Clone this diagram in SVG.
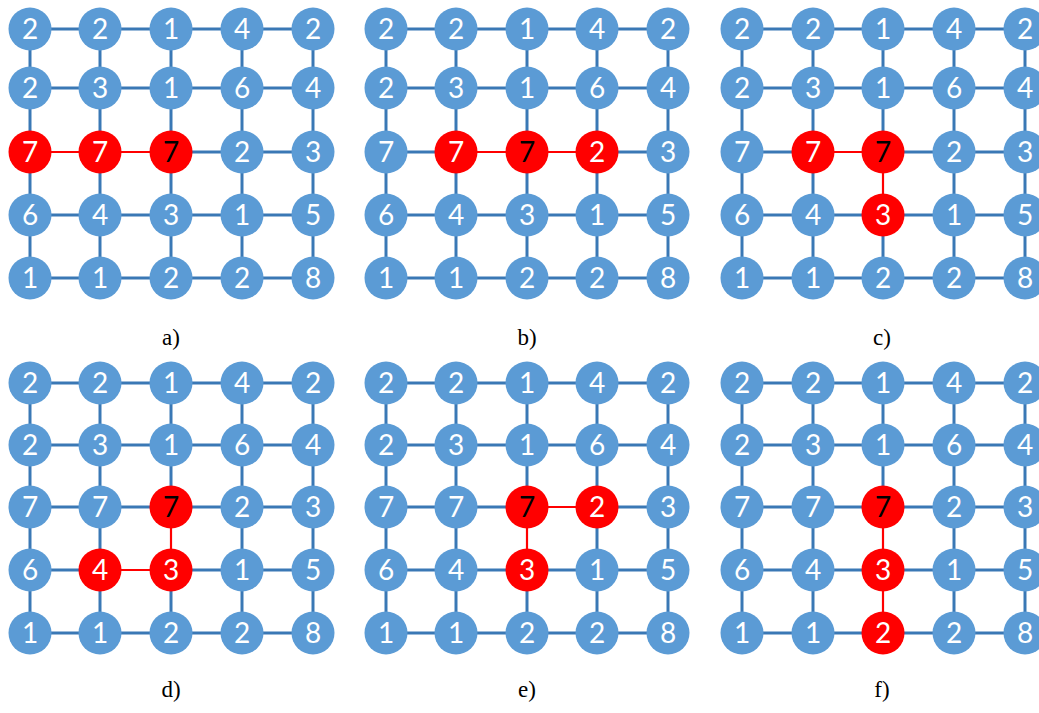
<svg xmlns="http://www.w3.org/2000/svg" width="1039" height="713" viewBox="0 0 1039 713">
<style>
.e{stroke:#3a78b5;stroke-width:3}
.r{stroke:#ff0000;stroke-width:2.2}
.n{fill:#5b9bd5}
.nr{fill:#ff0000}
.t{font-family:Lato,"Open Sans",sans-serif;font-size:28px;fill:#ffffff;text-anchor:middle}
.k{fill:#000000}
.lb{font-family:"Liberation Serif","DejaVu Serif",serif;font-size:23px;fill:#000;text-anchor:middle}
</style>
<rect width="1039" height="713" fill="#ffffff"/>
<g id="connectors">
<!-- panel a -->
<line class="e" x1="30" y1="29" x2="100" y2="29"/><line class="e" x1="100" y1="29" x2="171" y2="29"/><line class="e" x1="171" y1="29" x2="242" y2="29"/><line class="e" x1="242" y1="29" x2="313" y2="29"/>
<line class="e" x1="30" y1="88" x2="100" y2="88"/><line class="e" x1="100" y1="88" x2="171" y2="88"/><line class="e" x1="171" y1="88" x2="242" y2="88"/><line class="e" x1="242" y1="88" x2="313" y2="88"/>
<line class="r" x1="30" y1="152" x2="100" y2="152"/><line class="r" x1="100" y1="152" x2="171" y2="152"/><line class="e" x1="171" y1="152" x2="242" y2="152"/><line class="e" x1="242" y1="152" x2="313" y2="152"/>
<line class="e" x1="30" y1="215" x2="100" y2="215"/><line class="e" x1="100" y1="215" x2="171" y2="215"/><line class="e" x1="171" y1="215" x2="242" y2="215"/><line class="e" x1="242" y1="215" x2="313" y2="215"/>
<line class="e" x1="30" y1="278" x2="100" y2="278"/><line class="e" x1="100" y1="278" x2="171" y2="278"/><line class="e" x1="171" y1="278" x2="242" y2="278"/><line class="e" x1="242" y1="278" x2="313" y2="278"/>
<line class="e" x1="30" y1="29" x2="30" y2="88"/><line class="e" x1="30" y1="88" x2="30" y2="152"/><line class="e" x1="30" y1="152" x2="30" y2="215"/><line class="e" x1="30" y1="215" x2="30" y2="278"/>
<line class="e" x1="100" y1="29" x2="100" y2="88"/><line class="e" x1="100" y1="88" x2="100" y2="152"/><line class="e" x1="100" y1="152" x2="100" y2="215"/><line class="e" x1="100" y1="215" x2="100" y2="278"/>
<line class="e" x1="171" y1="29" x2="171" y2="88"/><line class="e" x1="171" y1="88" x2="171" y2="152"/><line class="e" x1="171" y1="152" x2="171" y2="215"/><line class="e" x1="171" y1="215" x2="171" y2="278"/>
<line class="e" x1="242" y1="29" x2="242" y2="88"/><line class="e" x1="242" y1="88" x2="242" y2="152"/><line class="e" x1="242" y1="152" x2="242" y2="215"/><line class="e" x1="242" y1="215" x2="242" y2="278"/>
<line class="e" x1="313" y1="29" x2="313" y2="88"/><line class="e" x1="313" y1="88" x2="313" y2="152"/><line class="e" x1="313" y1="152" x2="313" y2="215"/><line class="e" x1="313" y1="215" x2="313" y2="278"/>
<!-- panel b -->
<line class="e" x1="386" y1="29" x2="456" y2="29"/><line class="e" x1="456" y1="29" x2="527" y2="29"/><line class="e" x1="527" y1="29" x2="597" y2="29"/><line class="e" x1="597" y1="29" x2="668" y2="29"/>
<line class="e" x1="386" y1="88" x2="456" y2="88"/><line class="e" x1="456" y1="88" x2="527" y2="88"/><line class="e" x1="527" y1="88" x2="597" y2="88"/><line class="e" x1="597" y1="88" x2="668" y2="88"/>
<line class="e" x1="386" y1="152" x2="456" y2="152"/><line class="r" x1="456" y1="152" x2="527" y2="152"/><line class="r" x1="527" y1="152" x2="597" y2="152"/><line class="e" x1="597" y1="152" x2="668" y2="152"/>
<line class="e" x1="386" y1="215" x2="456" y2="215"/><line class="e" x1="456" y1="215" x2="527" y2="215"/><line class="e" x1="527" y1="215" x2="597" y2="215"/><line class="e" x1="597" y1="215" x2="668" y2="215"/>
<line class="e" x1="386" y1="278" x2="456" y2="278"/><line class="e" x1="456" y1="278" x2="527" y2="278"/><line class="e" x1="527" y1="278" x2="597" y2="278"/><line class="e" x1="597" y1="278" x2="668" y2="278"/>
<line class="e" x1="386" y1="29" x2="386" y2="88"/><line class="e" x1="386" y1="88" x2="386" y2="152"/><line class="e" x1="386" y1="152" x2="386" y2="215"/><line class="e" x1="386" y1="215" x2="386" y2="278"/>
<line class="e" x1="456" y1="29" x2="456" y2="88"/><line class="e" x1="456" y1="88" x2="456" y2="152"/><line class="e" x1="456" y1="152" x2="456" y2="215"/><line class="e" x1="456" y1="215" x2="456" y2="278"/>
<line class="e" x1="527" y1="29" x2="527" y2="88"/><line class="e" x1="527" y1="88" x2="527" y2="152"/><line class="e" x1="527" y1="152" x2="527" y2="215"/><line class="e" x1="527" y1="215" x2="527" y2="278"/>
<line class="e" x1="597" y1="29" x2="597" y2="88"/><line class="e" x1="597" y1="88" x2="597" y2="152"/><line class="e" x1="597" y1="152" x2="597" y2="215"/><line class="e" x1="597" y1="215" x2="597" y2="278"/>
<line class="e" x1="668" y1="29" x2="668" y2="88"/><line class="e" x1="668" y1="88" x2="668" y2="152"/><line class="e" x1="668" y1="152" x2="668" y2="215"/><line class="e" x1="668" y1="215" x2="668" y2="278"/>
<!-- panel c -->
<line class="e" x1="742" y1="29" x2="813" y2="29"/><line class="e" x1="813" y1="29" x2="883" y2="29"/><line class="e" x1="883" y1="29" x2="954" y2="29"/><line class="e" x1="954" y1="29" x2="1025" y2="29"/>
<line class="e" x1="742" y1="88" x2="813" y2="88"/><line class="e" x1="813" y1="88" x2="883" y2="88"/><line class="e" x1="883" y1="88" x2="954" y2="88"/><line class="e" x1="954" y1="88" x2="1025" y2="88"/>
<line class="e" x1="742" y1="152" x2="813" y2="152"/><line class="r" x1="813" y1="152" x2="883" y2="152"/><line class="e" x1="883" y1="152" x2="954" y2="152"/><line class="e" x1="954" y1="152" x2="1025" y2="152"/>
<line class="e" x1="742" y1="215" x2="813" y2="215"/><line class="e" x1="813" y1="215" x2="883" y2="215"/><line class="e" x1="883" y1="215" x2="954" y2="215"/><line class="e" x1="954" y1="215" x2="1025" y2="215"/>
<line class="e" x1="742" y1="278" x2="813" y2="278"/><line class="e" x1="813" y1="278" x2="883" y2="278"/><line class="e" x1="883" y1="278" x2="954" y2="278"/><line class="e" x1="954" y1="278" x2="1025" y2="278"/>
<line class="e" x1="742" y1="29" x2="742" y2="88"/><line class="e" x1="742" y1="88" x2="742" y2="152"/><line class="e" x1="742" y1="152" x2="742" y2="215"/><line class="e" x1="742" y1="215" x2="742" y2="278"/>
<line class="e" x1="813" y1="29" x2="813" y2="88"/><line class="e" x1="813" y1="88" x2="813" y2="152"/><line class="e" x1="813" y1="152" x2="813" y2="215"/><line class="e" x1="813" y1="215" x2="813" y2="278"/>
<line class="e" x1="883" y1="29" x2="883" y2="88"/><line class="e" x1="883" y1="88" x2="883" y2="152"/><line class="r" x1="883" y1="152" x2="883" y2="215"/><line class="e" x1="883" y1="215" x2="883" y2="278"/>
<line class="e" x1="954" y1="29" x2="954" y2="88"/><line class="e" x1="954" y1="88" x2="954" y2="152"/><line class="e" x1="954" y1="152" x2="954" y2="215"/><line class="e" x1="954" y1="215" x2="954" y2="278"/>
<line class="e" x1="1025" y1="29" x2="1025" y2="88"/><line class="e" x1="1025" y1="88" x2="1025" y2="152"/><line class="e" x1="1025" y1="152" x2="1025" y2="215"/><line class="e" x1="1025" y1="215" x2="1025" y2="278"/>
<!-- panel d -->
<line class="e" x1="30" y1="383" x2="100" y2="383"/><line class="e" x1="100" y1="383" x2="171" y2="383"/><line class="e" x1="171" y1="383" x2="242" y2="383"/><line class="e" x1="242" y1="383" x2="313" y2="383"/>
<line class="e" x1="30" y1="445" x2="100" y2="445"/><line class="e" x1="100" y1="445" x2="171" y2="445"/><line class="e" x1="171" y1="445" x2="242" y2="445"/><line class="e" x1="242" y1="445" x2="313" y2="445"/>
<line class="e" x1="30" y1="507" x2="100" y2="507"/><line class="e" x1="100" y1="507" x2="171" y2="507"/><line class="e" x1="171" y1="507" x2="242" y2="507"/><line class="e" x1="242" y1="507" x2="313" y2="507"/>
<line class="e" x1="30" y1="570" x2="100" y2="570"/><line class="r" x1="100" y1="570" x2="171" y2="570"/><line class="e" x1="171" y1="570" x2="242" y2="570"/><line class="e" x1="242" y1="570" x2="313" y2="570"/>
<line class="e" x1="30" y1="633" x2="100" y2="633"/><line class="e" x1="100" y1="633" x2="171" y2="633"/><line class="e" x1="171" y1="633" x2="242" y2="633"/><line class="e" x1="242" y1="633" x2="313" y2="633"/>
<line class="e" x1="30" y1="383" x2="30" y2="445"/><line class="e" x1="30" y1="445" x2="30" y2="507"/><line class="e" x1="30" y1="507" x2="30" y2="570"/><line class="e" x1="30" y1="570" x2="30" y2="633"/>
<line class="e" x1="100" y1="383" x2="100" y2="445"/><line class="e" x1="100" y1="445" x2="100" y2="507"/><line class="e" x1="100" y1="507" x2="100" y2="570"/><line class="e" x1="100" y1="570" x2="100" y2="633"/>
<line class="e" x1="171" y1="383" x2="171" y2="445"/><line class="e" x1="171" y1="445" x2="171" y2="507"/><line class="r" x1="171" y1="507" x2="171" y2="570"/><line class="e" x1="171" y1="570" x2="171" y2="633"/>
<line class="e" x1="242" y1="383" x2="242" y2="445"/><line class="e" x1="242" y1="445" x2="242" y2="507"/><line class="e" x1="242" y1="507" x2="242" y2="570"/><line class="e" x1="242" y1="570" x2="242" y2="633"/>
<line class="e" x1="313" y1="383" x2="313" y2="445"/><line class="e" x1="313" y1="445" x2="313" y2="507"/><line class="e" x1="313" y1="507" x2="313" y2="570"/><line class="e" x1="313" y1="570" x2="313" y2="633"/>
<!-- panel e -->
<line class="e" x1="386" y1="383" x2="456" y2="383"/><line class="e" x1="456" y1="383" x2="527" y2="383"/><line class="e" x1="527" y1="383" x2="597" y2="383"/><line class="e" x1="597" y1="383" x2="668" y2="383"/>
<line class="e" x1="386" y1="445" x2="456" y2="445"/><line class="e" x1="456" y1="445" x2="527" y2="445"/><line class="e" x1="527" y1="445" x2="597" y2="445"/><line class="e" x1="597" y1="445" x2="668" y2="445"/>
<line class="e" x1="386" y1="507" x2="456" y2="507"/><line class="e" x1="456" y1="507" x2="527" y2="507"/><line class="r" x1="527" y1="507" x2="597" y2="507"/><line class="e" x1="597" y1="507" x2="668" y2="507"/>
<line class="e" x1="386" y1="570" x2="456" y2="570"/><line class="e" x1="456" y1="570" x2="527" y2="570"/><line class="e" x1="527" y1="570" x2="597" y2="570"/><line class="e" x1="597" y1="570" x2="668" y2="570"/>
<line class="e" x1="386" y1="633" x2="456" y2="633"/><line class="e" x1="456" y1="633" x2="527" y2="633"/><line class="e" x1="527" y1="633" x2="597" y2="633"/><line class="e" x1="597" y1="633" x2="668" y2="633"/>
<line class="e" x1="386" y1="383" x2="386" y2="445"/><line class="e" x1="386" y1="445" x2="386" y2="507"/><line class="e" x1="386" y1="507" x2="386" y2="570"/><line class="e" x1="386" y1="570" x2="386" y2="633"/>
<line class="e" x1="456" y1="383" x2="456" y2="445"/><line class="e" x1="456" y1="445" x2="456" y2="507"/><line class="e" x1="456" y1="507" x2="456" y2="570"/><line class="e" x1="456" y1="570" x2="456" y2="633"/>
<line class="e" x1="527" y1="383" x2="527" y2="445"/><line class="e" x1="527" y1="445" x2="527" y2="507"/><line class="r" x1="527" y1="507" x2="527" y2="570"/><line class="e" x1="527" y1="570" x2="527" y2="633"/>
<line class="e" x1="597" y1="383" x2="597" y2="445"/><line class="e" x1="597" y1="445" x2="597" y2="507"/><line class="e" x1="597" y1="507" x2="597" y2="570"/><line class="e" x1="597" y1="570" x2="597" y2="633"/>
<line class="e" x1="668" y1="383" x2="668" y2="445"/><line class="e" x1="668" y1="445" x2="668" y2="507"/><line class="e" x1="668" y1="507" x2="668" y2="570"/><line class="e" x1="668" y1="570" x2="668" y2="633"/>
<!-- panel f -->
<line class="e" x1="742" y1="383" x2="813" y2="383"/><line class="e" x1="813" y1="383" x2="883" y2="383"/><line class="e" x1="883" y1="383" x2="954" y2="383"/><line class="e" x1="954" y1="383" x2="1025" y2="383"/>
<line class="e" x1="742" y1="445" x2="813" y2="445"/><line class="e" x1="813" y1="445" x2="883" y2="445"/><line class="e" x1="883" y1="445" x2="954" y2="445"/><line class="e" x1="954" y1="445" x2="1025" y2="445"/>
<line class="e" x1="742" y1="507" x2="813" y2="507"/><line class="e" x1="813" y1="507" x2="883" y2="507"/><line class="e" x1="883" y1="507" x2="954" y2="507"/><line class="e" x1="954" y1="507" x2="1025" y2="507"/>
<line class="e" x1="742" y1="570" x2="813" y2="570"/><line class="e" x1="813" y1="570" x2="883" y2="570"/><line class="e" x1="883" y1="570" x2="954" y2="570"/><line class="e" x1="954" y1="570" x2="1025" y2="570"/>
<line class="e" x1="742" y1="633" x2="813" y2="633"/><line class="e" x1="813" y1="633" x2="883" y2="633"/><line class="e" x1="883" y1="633" x2="954" y2="633"/><line class="e" x1="954" y1="633" x2="1025" y2="633"/>
<line class="e" x1="742" y1="383" x2="742" y2="445"/><line class="e" x1="742" y1="445" x2="742" y2="507"/><line class="e" x1="742" y1="507" x2="742" y2="570"/><line class="e" x1="742" y1="570" x2="742" y2="633"/>
<line class="e" x1="813" y1="383" x2="813" y2="445"/><line class="e" x1="813" y1="445" x2="813" y2="507"/><line class="e" x1="813" y1="507" x2="813" y2="570"/><line class="e" x1="813" y1="570" x2="813" y2="633"/>
<line class="e" x1="883" y1="383" x2="883" y2="445"/><line class="e" x1="883" y1="445" x2="883" y2="507"/><line class="r" x1="883" y1="507" x2="883" y2="570"/><line class="r" x1="883" y1="570" x2="883" y2="633"/>
<line class="e" x1="954" y1="383" x2="954" y2="445"/><line class="e" x1="954" y1="445" x2="954" y2="507"/><line class="e" x1="954" y1="507" x2="954" y2="570"/><line class="e" x1="954" y1="570" x2="954" y2="633"/>
<line class="e" x1="1025" y1="383" x2="1025" y2="445"/><line class="e" x1="1025" y1="445" x2="1025" y2="507"/><line class="e" x1="1025" y1="507" x2="1025" y2="570"/><line class="e" x1="1025" y1="570" x2="1025" y2="633"/>
</g>
<!-- panel a nodes -->
<g id="a-0-0"><circle class="n" cx="30" cy="29" r="21.5"/><text class="t" x="30" y="39">2</text></g>
<g id="a-0-1"><circle class="n" cx="100" cy="29" r="21.5"/><text class="t" x="100" y="39">2</text></g>
<g id="a-0-2"><circle class="n" cx="171" cy="29" r="21.5"/><text class="t" x="171" y="39">1</text></g>
<g id="a-0-3"><circle class="n" cx="242" cy="29" r="21.5"/><text class="t" x="242" y="39">4</text></g>
<g id="a-0-4"><circle class="n" cx="313" cy="29" r="21.5"/><text class="t" x="313" y="39">2</text></g>
<g id="a-1-0"><circle class="n" cx="30" cy="88" r="21.5"/><text class="t" x="30" y="98">2</text></g>
<g id="a-1-1"><circle class="n" cx="100" cy="88" r="21.5"/><text class="t" x="100" y="98">3</text></g>
<g id="a-1-2"><circle class="n" cx="171" cy="88" r="21.5"/><text class="t" x="171" y="98">1</text></g>
<g id="a-1-3"><circle class="n" cx="242" cy="88" r="21.5"/><text class="t" x="242" y="98">6</text></g>
<g id="a-1-4"><circle class="n" cx="313" cy="88" r="21.5"/><text class="t" x="313" y="98">4</text></g>
<g id="a-2-0"><circle class="nr" cx="30" cy="152" r="21.5"/><text class="t" x="30" y="162">7</text></g>
<g id="a-2-1"><circle class="nr" cx="100" cy="152" r="21.5"/><text class="t" x="100" y="162">7</text></g>
<g id="a-2-2"><circle class="nr" cx="171" cy="152" r="21.5"/><text class="t k" x="171" y="162">7</text></g>
<g id="a-2-3"><circle class="n" cx="242" cy="152" r="21.5"/><text class="t" x="242" y="162">2</text></g>
<g id="a-2-4"><circle class="n" cx="313" cy="152" r="21.5"/><text class="t" x="313" y="162">3</text></g>
<g id="a-3-0"><circle class="n" cx="30" cy="215" r="21.5"/><text class="t" x="30" y="225">6</text></g>
<g id="a-3-1"><circle class="n" cx="100" cy="215" r="21.5"/><text class="t" x="100" y="225">4</text></g>
<g id="a-3-2"><circle class="n" cx="171" cy="215" r="21.5"/><text class="t" x="171" y="225">3</text></g>
<g id="a-3-3"><circle class="n" cx="242" cy="215" r="21.5"/><text class="t" x="242" y="225">1</text></g>
<g id="a-3-4"><circle class="n" cx="313" cy="215" r="21.5"/><text class="t" x="313" y="225">5</text></g>
<g id="a-4-0"><circle class="n" cx="30" cy="278" r="21.5"/><text class="t" x="30" y="288">1</text></g>
<g id="a-4-1"><circle class="n" cx="100" cy="278" r="21.5"/><text class="t" x="100" y="288">1</text></g>
<g id="a-4-2"><circle class="n" cx="171" cy="278" r="21.5"/><text class="t" x="171" y="288">2</text></g>
<g id="a-4-3"><circle class="n" cx="242" cy="278" r="21.5"/><text class="t" x="242" y="288">2</text></g>
<g id="a-4-4"><circle class="n" cx="313" cy="278" r="21.5"/><text class="t" x="313" y="288">8</text></g>
<!-- panel b nodes -->
<g id="b-0-0"><circle class="n" cx="386" cy="29" r="21.5"/><text class="t" x="386" y="39">2</text></g>
<g id="b-0-1"><circle class="n" cx="456" cy="29" r="21.5"/><text class="t" x="456" y="39">2</text></g>
<g id="b-0-2"><circle class="n" cx="527" cy="29" r="21.5"/><text class="t" x="527" y="39">1</text></g>
<g id="b-0-3"><circle class="n" cx="597" cy="29" r="21.5"/><text class="t" x="597" y="39">4</text></g>
<g id="b-0-4"><circle class="n" cx="668" cy="29" r="21.5"/><text class="t" x="668" y="39">2</text></g>
<g id="b-1-0"><circle class="n" cx="386" cy="88" r="21.5"/><text class="t" x="386" y="98">2</text></g>
<g id="b-1-1"><circle class="n" cx="456" cy="88" r="21.5"/><text class="t" x="456" y="98">3</text></g>
<g id="b-1-2"><circle class="n" cx="527" cy="88" r="21.5"/><text class="t" x="527" y="98">1</text></g>
<g id="b-1-3"><circle class="n" cx="597" cy="88" r="21.5"/><text class="t" x="597" y="98">6</text></g>
<g id="b-1-4"><circle class="n" cx="668" cy="88" r="21.5"/><text class="t" x="668" y="98">4</text></g>
<g id="b-2-0"><circle class="n" cx="386" cy="152" r="21.5"/><text class="t" x="386" y="162">7</text></g>
<g id="b-2-1"><circle class="nr" cx="456" cy="152" r="21.5"/><text class="t" x="456" y="162">7</text></g>
<g id="b-2-2"><circle class="nr" cx="527" cy="152" r="21.5"/><text class="t k" x="527" y="162">7</text></g>
<g id="b-2-3"><circle class="nr" cx="597" cy="152" r="21.5"/><text class="t" x="597" y="162">2</text></g>
<g id="b-2-4"><circle class="n" cx="668" cy="152" r="21.5"/><text class="t" x="668" y="162">3</text></g>
<g id="b-3-0"><circle class="n" cx="386" cy="215" r="21.5"/><text class="t" x="386" y="225">6</text></g>
<g id="b-3-1"><circle class="n" cx="456" cy="215" r="21.5"/><text class="t" x="456" y="225">4</text></g>
<g id="b-3-2"><circle class="n" cx="527" cy="215" r="21.5"/><text class="t" x="527" y="225">3</text></g>
<g id="b-3-3"><circle class="n" cx="597" cy="215" r="21.5"/><text class="t" x="597" y="225">1</text></g>
<g id="b-3-4"><circle class="n" cx="668" cy="215" r="21.5"/><text class="t" x="668" y="225">5</text></g>
<g id="b-4-0"><circle class="n" cx="386" cy="278" r="21.5"/><text class="t" x="386" y="288">1</text></g>
<g id="b-4-1"><circle class="n" cx="456" cy="278" r="21.5"/><text class="t" x="456" y="288">1</text></g>
<g id="b-4-2"><circle class="n" cx="527" cy="278" r="21.5"/><text class="t" x="527" y="288">2</text></g>
<g id="b-4-3"><circle class="n" cx="597" cy="278" r="21.5"/><text class="t" x="597" y="288">2</text></g>
<g id="b-4-4"><circle class="n" cx="668" cy="278" r="21.5"/><text class="t" x="668" y="288">8</text></g>
<!-- panel c nodes -->
<g id="c-0-0"><circle class="n" cx="742" cy="29" r="21.5"/><text class="t" x="742" y="39">2</text></g>
<g id="c-0-1"><circle class="n" cx="813" cy="29" r="21.5"/><text class="t" x="813" y="39">2</text></g>
<g id="c-0-2"><circle class="n" cx="883" cy="29" r="21.5"/><text class="t" x="883" y="39">1</text></g>
<g id="c-0-3"><circle class="n" cx="954" cy="29" r="21.5"/><text class="t" x="954" y="39">4</text></g>
<g id="c-0-4"><circle class="n" cx="1025" cy="29" r="21.5"/><text class="t" x="1025" y="39">2</text></g>
<g id="c-1-0"><circle class="n" cx="742" cy="88" r="21.5"/><text class="t" x="742" y="98">2</text></g>
<g id="c-1-1"><circle class="n" cx="813" cy="88" r="21.5"/><text class="t" x="813" y="98">3</text></g>
<g id="c-1-2"><circle class="n" cx="883" cy="88" r="21.5"/><text class="t" x="883" y="98">1</text></g>
<g id="c-1-3"><circle class="n" cx="954" cy="88" r="21.5"/><text class="t" x="954" y="98">6</text></g>
<g id="c-1-4"><circle class="n" cx="1025" cy="88" r="21.5"/><text class="t" x="1025" y="98">4</text></g>
<g id="c-2-0"><circle class="n" cx="742" cy="152" r="21.5"/><text class="t" x="742" y="162">7</text></g>
<g id="c-2-1"><circle class="nr" cx="813" cy="152" r="21.5"/><text class="t" x="813" y="162">7</text></g>
<g id="c-2-2"><circle class="nr" cx="883" cy="152" r="21.5"/><text class="t k" x="883" y="162">7</text></g>
<g id="c-2-3"><circle class="n" cx="954" cy="152" r="21.5"/><text class="t" x="954" y="162">2</text></g>
<g id="c-2-4"><circle class="n" cx="1025" cy="152" r="21.5"/><text class="t" x="1025" y="162">3</text></g>
<g id="c-3-0"><circle class="n" cx="742" cy="215" r="21.5"/><text class="t" x="742" y="225">6</text></g>
<g id="c-3-1"><circle class="n" cx="813" cy="215" r="21.5"/><text class="t" x="813" y="225">4</text></g>
<g id="c-3-2"><circle class="nr" cx="883" cy="215" r="21.5"/><text class="t" x="883" y="225">3</text></g>
<g id="c-3-3"><circle class="n" cx="954" cy="215" r="21.5"/><text class="t" x="954" y="225">1</text></g>
<g id="c-3-4"><circle class="n" cx="1025" cy="215" r="21.5"/><text class="t" x="1025" y="225">5</text></g>
<g id="c-4-0"><circle class="n" cx="742" cy="278" r="21.5"/><text class="t" x="742" y="288">1</text></g>
<g id="c-4-1"><circle class="n" cx="813" cy="278" r="21.5"/><text class="t" x="813" y="288">1</text></g>
<g id="c-4-2"><circle class="n" cx="883" cy="278" r="21.5"/><text class="t" x="883" y="288">2</text></g>
<g id="c-4-3"><circle class="n" cx="954" cy="278" r="21.5"/><text class="t" x="954" y="288">2</text></g>
<g id="c-4-4"><circle class="n" cx="1025" cy="278" r="21.5"/><text class="t" x="1025" y="288">8</text></g>
<!-- panel d nodes -->
<g id="d-0-0"><circle class="n" cx="30" cy="383" r="21.5"/><text class="t" x="30" y="393">2</text></g>
<g id="d-0-1"><circle class="n" cx="100" cy="383" r="21.5"/><text class="t" x="100" y="393">2</text></g>
<g id="d-0-2"><circle class="n" cx="171" cy="383" r="21.5"/><text class="t" x="171" y="393">1</text></g>
<g id="d-0-3"><circle class="n" cx="242" cy="383" r="21.5"/><text class="t" x="242" y="393">4</text></g>
<g id="d-0-4"><circle class="n" cx="313" cy="383" r="21.5"/><text class="t" x="313" y="393">2</text></g>
<g id="d-1-0"><circle class="n" cx="30" cy="445" r="21.5"/><text class="t" x="30" y="455">2</text></g>
<g id="d-1-1"><circle class="n" cx="100" cy="445" r="21.5"/><text class="t" x="100" y="455">3</text></g>
<g id="d-1-2"><circle class="n" cx="171" cy="445" r="21.5"/><text class="t" x="171" y="455">1</text></g>
<g id="d-1-3"><circle class="n" cx="242" cy="445" r="21.5"/><text class="t" x="242" y="455">6</text></g>
<g id="d-1-4"><circle class="n" cx="313" cy="445" r="21.5"/><text class="t" x="313" y="455">4</text></g>
<g id="d-2-0"><circle class="n" cx="30" cy="507" r="21.5"/><text class="t" x="30" y="517">7</text></g>
<g id="d-2-1"><circle class="n" cx="100" cy="507" r="21.5"/><text class="t" x="100" y="517">7</text></g>
<g id="d-2-2"><circle class="nr" cx="171" cy="507" r="21.5"/><text class="t k" x="171" y="517">7</text></g>
<g id="d-2-3"><circle class="n" cx="242" cy="507" r="21.5"/><text class="t" x="242" y="517">2</text></g>
<g id="d-2-4"><circle class="n" cx="313" cy="507" r="21.5"/><text class="t" x="313" y="517">3</text></g>
<g id="d-3-0"><circle class="n" cx="30" cy="570" r="21.5"/><text class="t" x="30" y="580">6</text></g>
<g id="d-3-1"><circle class="nr" cx="100" cy="570" r="21.5"/><text class="t" x="100" y="580">4</text></g>
<g id="d-3-2"><circle class="nr" cx="171" cy="570" r="21.5"/><text class="t" x="171" y="580">3</text></g>
<g id="d-3-3"><circle class="n" cx="242" cy="570" r="21.5"/><text class="t" x="242" y="580">1</text></g>
<g id="d-3-4"><circle class="n" cx="313" cy="570" r="21.5"/><text class="t" x="313" y="580">5</text></g>
<g id="d-4-0"><circle class="n" cx="30" cy="633" r="21.5"/><text class="t" x="30" y="643">1</text></g>
<g id="d-4-1"><circle class="n" cx="100" cy="633" r="21.5"/><text class="t" x="100" y="643">1</text></g>
<g id="d-4-2"><circle class="n" cx="171" cy="633" r="21.5"/><text class="t" x="171" y="643">2</text></g>
<g id="d-4-3"><circle class="n" cx="242" cy="633" r="21.5"/><text class="t" x="242" y="643">2</text></g>
<g id="d-4-4"><circle class="n" cx="313" cy="633" r="21.5"/><text class="t" x="313" y="643">8</text></g>
<!-- panel e nodes -->
<g id="e-0-0"><circle class="n" cx="386" cy="383" r="21.5"/><text class="t" x="386" y="393">2</text></g>
<g id="e-0-1"><circle class="n" cx="456" cy="383" r="21.5"/><text class="t" x="456" y="393">2</text></g>
<g id="e-0-2"><circle class="n" cx="527" cy="383" r="21.5"/><text class="t" x="527" y="393">1</text></g>
<g id="e-0-3"><circle class="n" cx="597" cy="383" r="21.5"/><text class="t" x="597" y="393">4</text></g>
<g id="e-0-4"><circle class="n" cx="668" cy="383" r="21.5"/><text class="t" x="668" y="393">2</text></g>
<g id="e-1-0"><circle class="n" cx="386" cy="445" r="21.5"/><text class="t" x="386" y="455">2</text></g>
<g id="e-1-1"><circle class="n" cx="456" cy="445" r="21.5"/><text class="t" x="456" y="455">3</text></g>
<g id="e-1-2"><circle class="n" cx="527" cy="445" r="21.5"/><text class="t" x="527" y="455">1</text></g>
<g id="e-1-3"><circle class="n" cx="597" cy="445" r="21.5"/><text class="t" x="597" y="455">6</text></g>
<g id="e-1-4"><circle class="n" cx="668" cy="445" r="21.5"/><text class="t" x="668" y="455">4</text></g>
<g id="e-2-0"><circle class="n" cx="386" cy="507" r="21.5"/><text class="t" x="386" y="517">7</text></g>
<g id="e-2-1"><circle class="n" cx="456" cy="507" r="21.5"/><text class="t" x="456" y="517">7</text></g>
<g id="e-2-2"><circle class="nr" cx="527" cy="507" r="21.5"/><text class="t k" x="527" y="517">7</text></g>
<g id="e-2-3"><circle class="nr" cx="597" cy="507" r="21.5"/><text class="t" x="597" y="517">2</text></g>
<g id="e-2-4"><circle class="n" cx="668" cy="507" r="21.5"/><text class="t" x="668" y="517">3</text></g>
<g id="e-3-0"><circle class="n" cx="386" cy="570" r="21.5"/><text class="t" x="386" y="580">6</text></g>
<g id="e-3-1"><circle class="n" cx="456" cy="570" r="21.5"/><text class="t" x="456" y="580">4</text></g>
<g id="e-3-2"><circle class="nr" cx="527" cy="570" r="21.5"/><text class="t" x="527" y="580">3</text></g>
<g id="e-3-3"><circle class="n" cx="597" cy="570" r="21.5"/><text class="t" x="597" y="580">1</text></g>
<g id="e-3-4"><circle class="n" cx="668" cy="570" r="21.5"/><text class="t" x="668" y="580">5</text></g>
<g id="e-4-0"><circle class="n" cx="386" cy="633" r="21.5"/><text class="t" x="386" y="643">1</text></g>
<g id="e-4-1"><circle class="n" cx="456" cy="633" r="21.5"/><text class="t" x="456" y="643">1</text></g>
<g id="e-4-2"><circle class="n" cx="527" cy="633" r="21.5"/><text class="t" x="527" y="643">2</text></g>
<g id="e-4-3"><circle class="n" cx="597" cy="633" r="21.5"/><text class="t" x="597" y="643">2</text></g>
<g id="e-4-4"><circle class="n" cx="668" cy="633" r="21.5"/><text class="t" x="668" y="643">8</text></g>
<!-- panel f nodes -->
<g id="f-0-0"><circle class="n" cx="742" cy="383" r="21.5"/><text class="t" x="742" y="393">2</text></g>
<g id="f-0-1"><circle class="n" cx="813" cy="383" r="21.5"/><text class="t" x="813" y="393">2</text></g>
<g id="f-0-2"><circle class="n" cx="883" cy="383" r="21.5"/><text class="t" x="883" y="393">1</text></g>
<g id="f-0-3"><circle class="n" cx="954" cy="383" r="21.5"/><text class="t" x="954" y="393">4</text></g>
<g id="f-0-4"><circle class="n" cx="1025" cy="383" r="21.5"/><text class="t" x="1025" y="393">2</text></g>
<g id="f-1-0"><circle class="n" cx="742" cy="445" r="21.5"/><text class="t" x="742" y="455">2</text></g>
<g id="f-1-1"><circle class="n" cx="813" cy="445" r="21.5"/><text class="t" x="813" y="455">3</text></g>
<g id="f-1-2"><circle class="n" cx="883" cy="445" r="21.5"/><text class="t" x="883" y="455">1</text></g>
<g id="f-1-3"><circle class="n" cx="954" cy="445" r="21.5"/><text class="t" x="954" y="455">6</text></g>
<g id="f-1-4"><circle class="n" cx="1025" cy="445" r="21.5"/><text class="t" x="1025" y="455">4</text></g>
<g id="f-2-0"><circle class="n" cx="742" cy="507" r="21.5"/><text class="t" x="742" y="517">7</text></g>
<g id="f-2-1"><circle class="n" cx="813" cy="507" r="21.5"/><text class="t" x="813" y="517">7</text></g>
<g id="f-2-2"><circle class="nr" cx="883" cy="507" r="21.5"/><text class="t k" x="883" y="517">7</text></g>
<g id="f-2-3"><circle class="n" cx="954" cy="507" r="21.5"/><text class="t" x="954" y="517">2</text></g>
<g id="f-2-4"><circle class="n" cx="1025" cy="507" r="21.5"/><text class="t" x="1025" y="517">3</text></g>
<g id="f-3-0"><circle class="n" cx="742" cy="570" r="21.5"/><text class="t" x="742" y="580">6</text></g>
<g id="f-3-1"><circle class="n" cx="813" cy="570" r="21.5"/><text class="t" x="813" y="580">4</text></g>
<g id="f-3-2"><circle class="nr" cx="883" cy="570" r="21.5"/><text class="t" x="883" y="580">3</text></g>
<g id="f-3-3"><circle class="n" cx="954" cy="570" r="21.5"/><text class="t" x="954" y="580">1</text></g>
<g id="f-3-4"><circle class="n" cx="1025" cy="570" r="21.5"/><text class="t" x="1025" y="580">5</text></g>
<g id="f-4-0"><circle class="n" cx="742" cy="633" r="21.5"/><text class="t" x="742" y="643">1</text></g>
<g id="f-4-1"><circle class="n" cx="813" cy="633" r="21.5"/><text class="t" x="813" y="643">1</text></g>
<g id="f-4-2"><circle class="nr" cx="883" cy="633" r="21.5"/><text class="t" x="883" y="643">2</text></g>
<g id="f-4-3"><circle class="n" cx="954" cy="633" r="21.5"/><text class="t" x="954" y="643">2</text></g>
<g id="f-4-4"><circle class="n" cx="1025" cy="633" r="21.5"/><text class="t" x="1025" y="643">8</text></g>
<g id="labels">
<text class="lb" x="171" y="345">a)</text>
<text class="lb" x="527" y="345">b)</text>
<text class="lb" x="882" y="345">c)</text>
<text class="lb" x="171" y="697">d)</text>
<text class="lb" x="527" y="697">e)</text>
<text class="lb" x="882" y="697">f)</text>
</g>
</svg>
